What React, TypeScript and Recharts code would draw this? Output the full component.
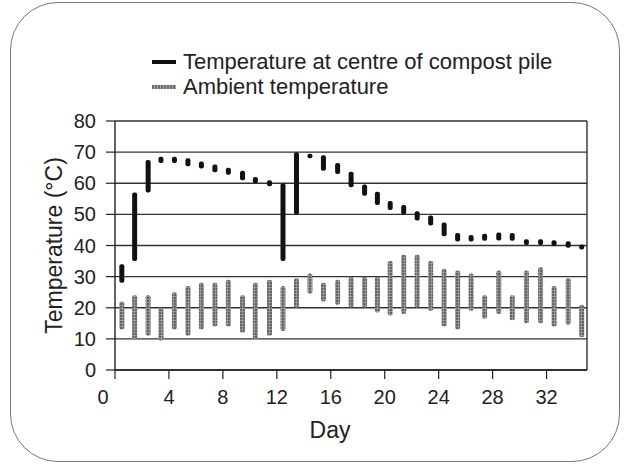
import React from "react"
import { ComposedChart, Bar, XAxis, YAxis, CartesianGrid, ReferenceLine } from "recharts"

// day position of each reading (centre of the daily bar)
const dayPos = [
  0.5, 1.45, 2.45, 3.4, 4.4, 5.4, 6.4, 7.4, 8.4, 9.45, 10.4, 11.45, 12.45, 13.45, 14.45, 15.45, 16.5, 17.5,
  18.5, 19.45, 20.4, 21.4, 22.4, 23.4, 24.4, 25.4, 26.4, 27.4, 28.45, 29.45, 30.5, 31.55, 32.55, 33.6, 34.6,
]

// temperature at centre of compost pile (daily min / max, °C)
const compostLow = [
  28, 35, 57, 66.5, 66.5, 65.5, 64.7, 63.5, 62.7, 61, 60, 59, 35, 50, 68, 64, 63, 58.7, 56, 53, 51.4, 50, 48,
  46.4, 43, 41.3, 41.3, 41.5, 41.6, 41.5, 40.2, 40.2, 39.8, 39.3, 38.7,
]
const compostHigh = [
  34, 57, 67.5, 68.5, 68.5, 68, 67, 66, 65, 64, 62, 61, 60, 70, 69.5, 69, 66.5, 63.7, 59.6, 57.3, 54.3, 53, 51,
  49.6, 47.4, 44, 43.4, 43.8, 44.2, 44, 42, 42, 41.7, 41.4, 40.3,
]

// ambient temperature (daily min / max, °C)
const ambientLow = [
  13, 10, 11, 9.5, 13, 11, 13, 14, 14, 12, 10, 11, 12.5, 20, 24.5, 22, 21, 20, 20, 18.5, 17.5, 18, 20, 19, 14,
  13, 19, 16.5, 18, 16, 15, 15, 14, 14.5, 10.5,
]
const ambientHigh = [
  22, 24, 24, 20, 25, 27, 28, 28, 29, 24, 28, 29, 27, 29.5, 31, 28, 29, 30, 30, 30, 35, 37, 37, 35, 32.5, 32,
  31, 24, 32, 24, 32, 33, 27, 29.5, 21,
]

const xTicks = [0, 4, 8, 12, 16, 20, 24, 28, 32]
const yTicks = [0, 10, 20, 30, 40, 50, 60, 70, 80]

const data = dayPos.map((d, i) => ({
  day: d,
  compost: [compostLow[i], compostHigh[i]],
  ambient: [ambientLow[i], ambientHigh[i]],
}))

const font = "'Liberation Sans', Arial, Helvetica, sans-serif"
const tickStyle = { fontSize: 20, fill: "#222", fontFamily: font }

// the "0" label sits a little left of its tick so it clears the y axis
const DayTick = (props: any) => {
  const { x, y, payload } = props
  const shift = payload.value === 0 ? -12 : 0
  return (
    <text x={x + shift} y={y} dy="0.71em" textAnchor="middle" {...tickStyle}>
      {payload.value}
    </text>
  )
}

export default function App() {
  return (
    <div
      style={{
        position: "absolute",
        left: 0,
        top: 0,
        width: 630,
        height: 469,
        background: "#fff",
        overflow: "hidden",
        fontFamily: font,
      }}
    >
      {/* rounded frame */}
      <div
        style={{
          position: "absolute",
          left: 10,
          top: 2,
          width: 608,
          height: 458,
          border: "1.5px solid #777",
          borderRadius: 48,
        }}
      />

      {/* legend */}
      <div style={{ position: "absolute", left: 152, top: 60, width: 24, height: 4, background: "#111" }} />
      <div style={{ position: "absolute", left: 183, top: 49, fontSize: 22, lineHeight: "26px", color: "#222" }}>
        Temperature at centre of compost pile
      </div>
      <div
        style={{
          position: "absolute",
          left: 152,
          top: 85,
          width: 24,
          height: 4,
          background: "repeating-linear-gradient(90deg, #6e6e6e 0 2px, #a5a5a5 2px 3px)",
        }}
      />
      <div style={{ position: "absolute", left: 183, top: 74, fontSize: 22, lineHeight: "26px", color: "#222" }}>
        Ambient temperature
      </div>

      <div style={{ position: "absolute", left: 0, top: 0 }}>
        <ComposedChart width={630} height={469} data={data} margin={{ top: 121, right: 43, bottom: 0, left: 0 }}>
          <defs>
            <pattern id="ambFill" width="3" height="3" patternUnits="userSpaceOnUse">
              <rect width="3" height="3" fill="#959595" />
              <circle cx="1" cy="1" r="0.9" fill="#4a4a4a" />
            </pattern>
          </defs>
          <CartesianGrid vertical={false} stroke="#333" strokeWidth={1.4} xAxisId="a" />
          <XAxis
            xAxisId="a"
            dataKey="day"
            type="number"
            domain={[0, 35]}
            ticks={xTicks}
            allowDataOverflow
            height={99}
            tickSize={9}
            tickMargin={11}
            tick={<DayTick />}
            axisLine={{ stroke: "#222", strokeWidth: 1.4 }}
            tickLine={{ stroke: "#222", strokeWidth: 1.2 }}
          />
          <XAxis xAxisId="b" dataKey="day" type="number" domain={[0, 35]} allowDataOverflow hide height={0} />
          <YAxis
            type="number"
            domain={[0, 80]}
            ticks={yTicks}
            width={115}
            tickSize={9}
            tickMargin={10}
            tick={tickStyle}
            axisLine={{ stroke: "#222", strokeWidth: 1.4 }}
            tickLine={{ stroke: "#222", strokeWidth: 1.2 }}
            label={{
              value: "Temperature (°C)",
              angle: -90,
              position: "insideLeft",
              offset: 54,
              style: { textAnchor: "middle", fontSize: 23, fill: "#222", fontFamily: font },
            }}
          />
          <ReferenceLine xAxisId="a" x={35} stroke="#333" strokeWidth={1.4} />
          <Bar
            xAxisId="b"
            dataKey="ambient"
            barSize={5}
            fill="url(#ambFill)"
            radius={2}
            isAnimationActive={false}
          />
          <Bar xAxisId="a" dataKey="compost" barSize={5} fill="#111" radius={2} isAnimationActive={false} />
        </ComposedChart>
      </div>

      <div
        style={{
          position: "absolute",
          left: 330,
          top: 416,
          transform: "translateX(-50%)",
          fontSize: 23,
          lineHeight: "28px",
          color: "#222",
        }}
      >
        Day
      </div>
    </div>
  )
}
